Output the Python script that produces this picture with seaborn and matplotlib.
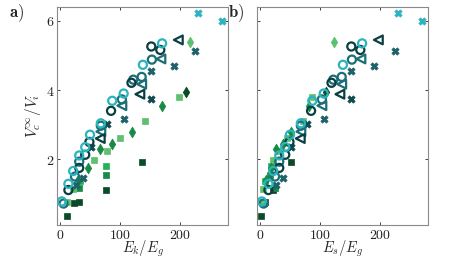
import numpy as np
import pandas as pd
import seaborn as sns
import matplotlib.pyplot as plt
from matplotlib.ticker import FuncFormatter

# ---- data (E_k/E_g, E_s/E_g, V_c^inf/V_i) ----
circ_cyan_ek = [3, 14, 22, 32, 42, 50, 68, 87, 106, 138, 170]
circ_cyan_v = [0.78, 1.29, 1.66, 2.11, 2.35, 2.71, 3.04, 3.69, 3.90, 4.73, 5.35]
circ_teal_ek = [6, 25, 32, 68, 103, 122, 136, 153]
circ_teal_v = [0.72, 1.50, 1.93, 2.97, 3.73, 4.30, 4.38, 4.88]
circ_dark_ek = [14, 32, 42, 49, 85, 119, 152, 167]
circ_dark_v = [1.11, 1.75, 2.13, 2.50, 3.40, 4.21, 5.26, 5.16]

tri_dark_ek = [67, 133, 197]
tri_dark_v = [2.60, 3.88, 5.45]
tri_teal_ek = [68, 103, 136, 168]
tri_teal_v = [2.80, 3.55, 4.17, 4.90]

x_dark_ek = [52, 79, 151]
x_dark_v = [2.35, 3.02, 3.73]
x_teal_ek = [27, 39, 106, 151, 189, 225]
x_teal_v = [1.26, 1.45, 3.16, 4.54, 4.69, 5.14]
x_cyan_ek = [229, 269]
x_cyan_v = [6.23, 6.00]

dia_mid_ek = [30, 47, 67, 86, 120, 170]
dia_mid_es = [10, 19, 27, 39, 51, 81]
dia_mid_v = [1.40, 1.75, 2.29, 2.45, 2.80, 3.53]
dia_dark_ek = [209]
dia_dark_es = [110]
dia_dark_v = [3.94]
dia_light_ek = [217]
dia_light_es = [123]
dia_light_v = [5.40]

sq_dark_ek = [11, 23, 32, 76, 136]
sq_dark_es = [2, 6, 9, 22, 52]
sq_dark_v = [0.35, 0.73, 0.76, 1.10, 1.93]
sq_mid_ek = [32, 76]
sq_mid_es = [25, 17]
sq_mid_v = [1.16, 1.54]
sq_bright_ek = [33, 77]
sq_bright_es = [8, 18]
sq_bright_v = [1.37, 1.81]
sq_light_ek = [12, 22, 57, 78, 100, 142, 198]
sq_light_es = [4, 5.5, 22, 30, 45, 71, 86]
sq_light_v = [0.75, 1.15, 1.99, 2.23, 2.61, 3.11, 3.81]

DARK = "#0a3f42"
TEAL = "#1c6e77"
CYAN = "#2bb4c0"
XDARK = "#0f4a50"
XTEAL = "#1e6169"
GDARK = "#0b4a26"
GMID = "#178a45"
GBRIGHT = "#22b25a"
GLIGHT = "#5ec070"

# (ek, es, v, marker, color, open, size)
series = [
    (sq_dark_ek, sq_dark_es, sq_dark_v, "s", GDARK, False, 20),
    (sq_mid_ek, sq_mid_es, sq_mid_v, "s", GMID, False, 20),
    (sq_bright_ek, sq_bright_es, sq_bright_v, "s", GBRIGHT, False, 20),
    (sq_light_ek, sq_light_es, sq_light_v, "s", GLIGHT, False, 20),
    (dia_mid_ek, dia_mid_es, dia_mid_v, "d", GMID, False, 30),
    (dia_dark_ek, dia_dark_es, dia_dark_v, "d", GDARK, False, 30),
    (dia_light_ek, dia_light_es, dia_light_v, "d", GLIGHT, False, 30),
    (x_dark_ek, x_dark_ek, x_dark_v, "X", XDARK, False, 28),
    (x_teal_ek, x_teal_ek, x_teal_v, "X", XTEAL, False, 28),
    (x_cyan_ek, x_cyan_ek, x_cyan_v, "X", CYAN, False, 28),
    (tri_teal_ek, tri_teal_ek, tri_teal_v, "<", TEAL, True, 40),
    (tri_dark_ek, tri_dark_ek, tri_dark_v, "<", DARK, True, 40),
    (circ_teal_ek, circ_teal_ek, circ_teal_v, "o", TEAL, True, 34),
    (circ_dark_ek, circ_dark_ek, circ_dark_v, "o", DARK, True, 34),
    (circ_cyan_ek, circ_cyan_ek, circ_cyan_v, "o", CYAN, True, 34),
]

sns.set_style("ticks")
plt.rcParams["mathtext.fontset"] = "cm"
plt.rcParams["font.family"] = "serif"

fig = plt.figure(figsize=(4.69, 2.61), dpi=100)
ax_a = fig.add_axes([0.1215, 0.138, 0.365, 0.835])
ax_b = fig.add_axes([0.548, 0.138, 0.365, 0.835])

for ax, key in [(ax_a, 0), (ax_b, 1)]:
    for ek, es, v, mk, col, hollow, sz in series:
        df = pd.DataFrame({"x": ek if key == 0 else es, "y": v})
        sns.scatterplot(data=df, x="x", y="y", ax=ax, marker=mk, s=sz,
                        color=col, edgecolor=col,
                        facecolor="none" if hollow else col,
                        linewidth=1.6 if hollow else 0.5, legend=False)
    ax.set_xlim(-5, 280)
    ax.set_ylim(0.1, 6.4)
    ax.set_xticks([0, 100, 200])
    ax.set_yticks([2, 4, 6])
    ax.tick_params(direction="in", length=2.5, width=0.6, top=True, right=True,
                   labelsize=10, colors="#222222", pad=2)
    ax.xaxis.set_major_formatter(FuncFormatter(lambda t, p: f"${t:g}$"))
    ax.yaxis.set_major_formatter(FuncFormatter(lambda t, p: f"${t:g}$"))
    for sp in ax.spines.values():
        sp.set_color("#8a8a8a")
        sp.set_linewidth(0.8)
    ax.set_ylabel("")

ax_a.set_xlabel(r"$E_k/E_g$", fontsize=10.5, labelpad=-2)
ax_b.set_xlabel(r"$E_s/E_g$", fontsize=10.5, labelpad=-2)
ax_a.set_ylabel(r"$V_c^\infty/V_i$", fontsize=11, labelpad=2)
ax_b.set_yticklabels([])

fig.text(0.02, 0.935, r"$\mathbf{a)}$", fontsize=12)
fig.text(0.487, 0.935, r"$\mathbf{b)}$", fontsize=12)

fig.savefig("out.png", dpi=100)
